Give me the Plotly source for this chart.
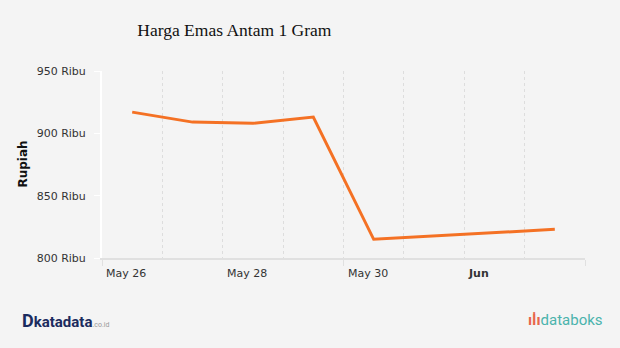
import plotly.graph_objects as go

dates = ["2025-05-26 12:00", "2025-05-27 12:00", "2025-05-28 12:00",
         "2025-05-29 12:00", "2025-05-30 12:00", "2025-06-02 12:00"]
prices = [917, 909, 908, 913, 815, 823]

y_ticks = [800, 850, 900, 950]
y_tick_text = ["800 Ribu", "850 Ribu", "900 Ribu", "950 Ribu"]

x_label_dates = ["2025-05-26", "2025-05-28", "2025-05-30", "2025-06-01"]
x_label_text = ["May 26", "May 28", "May 30", "<b>Jun</b>"]

title_text = "Harga Emas Antam 1 Gram"
y_title = "Rupiah"

fig = go.Figure()
fig.add_trace(go.Scatter(x=dates, y=prices, mode="lines",
                         line=dict(color="#f47124", width=3),
                         hoverinfo="skip"))

fig.update_layout(
    width=620, height=348,
    margin=dict(l=102, r=35, t=71, b=90),
    paper_bgcolor="#f4f4f4", plot_bgcolor="#f4f4f4",
    showlegend=False,
    font=dict(family="DejaVu Sans", size=11, color="#333333"),
    title=dict(text=title_text, x=0.378, xanchor="center", y=0.915, yanchor="middle",
               font=dict(family="Liberation Serif", size=17.5, color="#111111")),
)

fig.update_xaxes(
    type="date",
    range=["2025-05-26", "2025-06-03"],
    tickvals=["2025-05-26", "2025-05-30", "2025-06-03"],
    ticktext=["", "", ""],
    ticks="outside", ticklen=6, tickcolor="#e0e0e0",
    showgrid=True, gridcolor="#dddddd", griddash="dot", gridwidth=1,
    minor=dict(dtick=86400000, showgrid=True, gridcolor="#dddddd", griddash="dot", gridwidth=1),
    showline=True, linecolor="#e0e0e0", linewidth=2,
    zeroline=False, fixedrange=True,
)

fig.update_yaxes(
    range=[800, 950],
    tickvals=y_ticks,
    ticktext=y_tick_text,
    ticks="outside", ticklen=6, tickcolor="#ffffff", tickwidth=1,
    ticklabelstandoff=6,
    showgrid=False, showline=True, linecolor="#ffffff", linewidth=2,
    zeroline=False, fixedrange=True,
    tickfont=dict(family="DejaVu Sans", size=11, color="#333333"),
)

for d, t in zip(x_label_dates, x_label_text):
    fig.add_annotation(x=d, y=0, xref="x", yref="paper", text=t, showarrow=False,
                       xanchor="left", yanchor="top", xshift=2, yshift=-7,
                       font=dict(family="DejaVu Sans", size=11, color="#333333"))

fig.add_annotation(x=(22 - 102) / 483, y=0.5, xref="paper", yref="paper",
                   text="<b>" + y_title + "</b>", textangle=-90, showarrow=False,
                   xanchor="center", yanchor="middle",
                   font=dict(family="DejaVu Sans", size=12, color="#111111"))

# logos as text
fig.add_annotation(x=(20 - 102) / 483, y=(258 - 320) / 187, xref="paper", yref="paper",
                   text="<b><span style='font-size:18px'>D</span></b><b>katadata</b><span style='font-size:7px;color:#9a9a9a'>.co.id</span>",
                   showarrow=False, xanchor="left", yanchor="middle",
                   font=dict(family="Roboto", size=15, color="#1b2b5e"))
fig.add_annotation(x=(605 - 102) / 483, y=(258 - 320) / 187, xref="paper", yref="paper",
                   text="<span style='color:#e8674b'><b>ıİı</b></span>databoks",
                   showarrow=False, xanchor="right", yanchor="middle",
                   font=dict(family="Roboto", size=15, color="#4ab3ac"))

fig.write_html("out.html")
